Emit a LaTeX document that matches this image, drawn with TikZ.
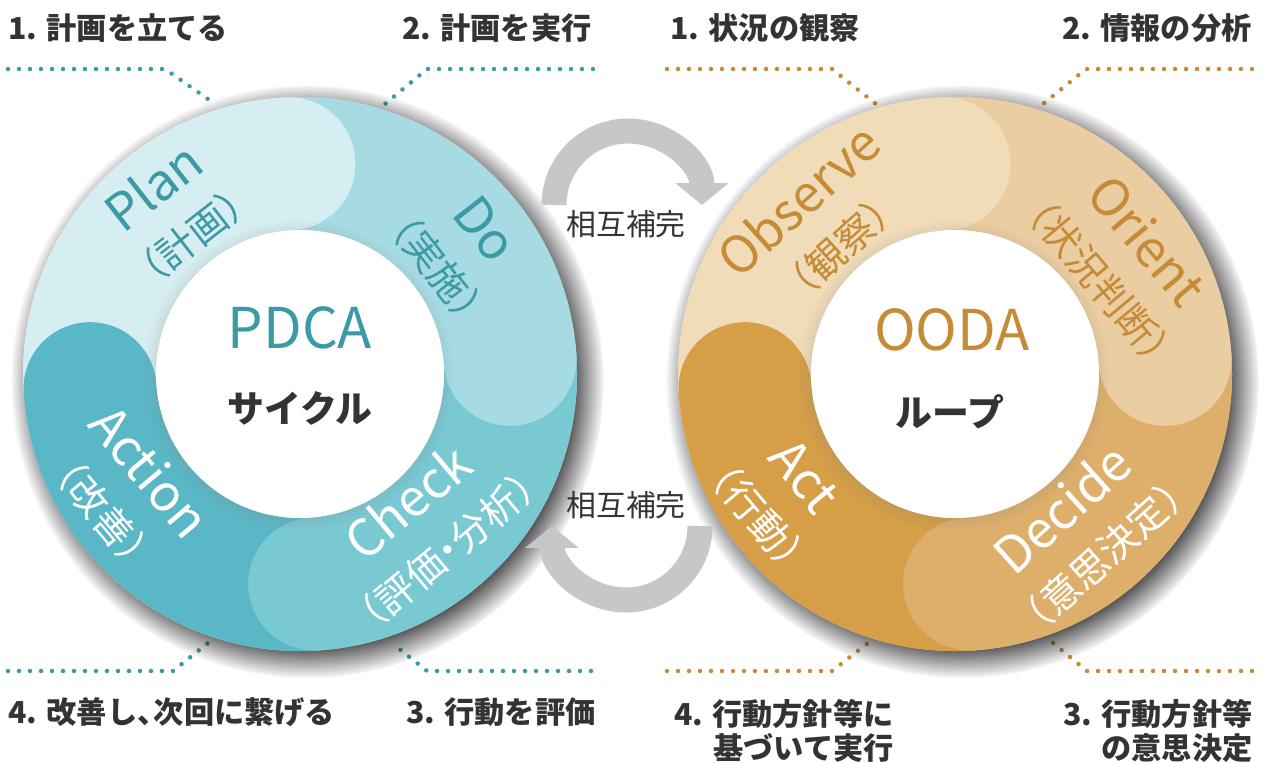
\documentclass[tikz,border=0pt]{standalone}
\usepackage{fontspec}
\setmainfont{Noto Sans CJK JP}
\usepackage{tikz}
\usetikzlibrary{arrows.meta,shadows,fadings}
\usepackage{tkz-euclide}

\definecolor{ink}{HTML}{333333}
\definecolor{pdcaink}{HTML}{3C9AA6}
\definecolor{oodaink}{HTML}{C68B36}
\definecolor{arrowgray}{HTML}{C6C7C9}
\definecolor{pdPlan}{HTML}{D6EEF1}
\definecolor{pdDo}{HTML}{A6DBE4}
\definecolor{pdCheck}{HTML}{79C9D3}
\definecolor{pdAct}{HTML}{5AB8C6}
\definecolor{ooObs}{HTML}{F0DCB9}
\definecolor{ooOri}{HTML}{EACDA1}
\definecolor{ooDec}{HTML}{DEAF6B}
\definecolor{ooAct}{HTML}{D69E47}

\newcommand\jpsmall{\fontsize{22}{28}\selectfont}
% one quarter of a ring: start angle, end angle, colour
\newcommand\ringseg[3]{\fill[#3] (#1:277) arc[start angle=#1,end angle=#2,radius=277]
  -- (#2:144) arc[start angle=#2,end angle=#1,radius=144] -- cycle;}
% rounded end of a quarter
\newcommand\ringcap[2]{\fill[#2] (#1:210.5) circle[radius=66.5];}

\begin{document}
\begin{tikzpicture}[x=0.02cm,y=0.02cm,
  head/.style={font=\bfseries\fontsize{17.2}{19.5}\selectfont,text=ink,inner sep=0pt},
  seglbl/.style={align=center,inner sep=0pt,font=\fontsize{29}{28}\selectfont},
  pdots/.style={draw=pdcaink,line width=0.09cm,line cap=round,dash pattern=on 0pt off 0.22cm},
  odots/.style={pdots,draw=oodaink},
  ringshadow/.style={circular drop shadow={shadow xshift=0.14cm,shadow yshift=-0.14cm,
    shadow scale=1.07,opacity=1,fill=black!95}},
  holeshadow/.style={circular drop shadow={shadow xshift=-0.03cm,shadow yshift=-0.03cm,
    shadow scale=1.08,opacity=0.3,fill=black!50}},
  mutual/.style={draw=arrowgray,line width=0.5cm,-{Triangle[length=0.44cm,width=1.05cm]}}]
\useasboundingbox (0,0) rectangle (1265,762);
\tkzDefPoints{300/388/P,955/388/O,554/557/m1,700/236/m2}
\tkzDefPoints{8/693/a1,165/693/a2,215/658/a3,593/693/b1,427/693/b2,385/658/b3}
\tkzDefPoints{8/91/c1,173/91/c2,208/119/c3,591/91/d1,427/91/d2,392/119/d3}
\tkzDefPoints{667/693/e1,832/693/e2,876/658/e3,1252/693/f1,1086/693/f2,1043/658/f3}
\tkzDefPoints{667/91/g1,832/91/g2,868/119/g3,1252/91/h1,1087/91/h2,1053/119/h3}

% leader dots
\draw[pdots](a1)--(a2)--(a3)(b1)--(b2)--(b3)(c1)--(c2)--(c3)(d1)--(d2)--(d3);
\draw[odots](e1)--(e2)--(e3)(f1)--(f2)--(f3)(g1)--(g2)--(g3)(h1)--(h2)--(h3);

\node[head,anchor=west] (p1) at (8,734) {1. 計画を立てる};
\node[head,anchor=east] (p2) at (592,734) {2. 計画を実行};
\node[head,anchor=west] (p4) at (8,50) {4. 改善し、\kern-0.45em次回に繋げる};
\node[head,anchor=east] (p3) at (596,50) {3. 行動を評価};
\node[head,anchor=west] (o1) at (670,734) {1. 状況の観察};
\node[head,anchor=east] (o2) at (1252,734) {2. 情報の分析};
\node[head,anchor=east,align=right] (o4) at (894,31) {4. 行動方針等に\\基づいて実行};
\node[head,anchor=east,align=right] (o3) at (1253,31) {3. 行動方針等\\の意思決定};

% PDCA ring
\begin{scope}[shift={(P)}]
\fill[pdPlan,ringshadow] (0,0) circle[radius=277];
\ringseg{184}{93}{pdPlan}
\ringseg{93}{4}{pdDo}
\ringseg{4}{-86}{pdCheck}
\ringseg{-86}{-176}{pdAct}
\ringcap{93}{pdPlan}\ringcap{4}{pdDo}\ringcap{-86}{pdCheck}\ringcap{184}{pdAct}
\fill[white,holeshadow] (0,0) circle[radius=144];
\node[seglbl,text=pdcaink,rotate=38] (plan) at (128:208) {Plan\\[5pt]\jpsmall（計画）};
\node[seglbl,text=pdcaink,rotate=-52] (do) at (38:205) {Do\\[5pt]\jpsmall（実施）};
\node[seglbl,text=white,rotate=40] (check) at (-50:197) {Check\\[5pt]\jpsmall（評価\kern-0.25em・\kern-0.25em分析）};
\node[seglbl,text=white,rotate=-50] (action) at (214:209) {Action\\[5pt]\jpsmall（改善）};
\node[font=\fontsize{32}{34}\selectfont,text=pdcaink] (pdca) at (0,46) {PDCA};
\node[font=\bfseries\fontsize{21}{24}\selectfont,text=ink] (cycle) at (0,-34) {サイクル};
\end{scope}

% OODA ring
\begin{scope}[shift={(O)}]
\fill[ooObs,ringshadow] (0,0) circle[radius=277];
\ringseg{184}{93}{ooObs}
\ringseg{93}{4}{ooOri}
\ringseg{4}{-86}{ooDec}
\ringseg{-86}{-176}{ooAct}
\ringcap{93}{ooObs}\ringcap{4}{ooOri}\ringcap{-86}{ooDec}\ringcap{184}{ooAct}
\fill[white,holeshadow] (0,0) circle[radius=144];
\node[seglbl,text=oodaink,rotate=42] (observe) at (132:204) {Observe\\[5pt]\jpsmall（観察）};
\node[seglbl,text=oodaink,rotate=-50] (orient) at (34:204) {Orient\\[5pt]\jpsmall（状況判断）};
\node[seglbl,text=white,rotate=42] (decide) at (-51:202) {Decide\\[5pt]\jpsmall（意思決定）};
\node[seglbl,text=white,rotate=-50] (act) at (215:212) {Act\\[5pt]\jpsmall（行動）};
\node[font=\fontsize{32}{34}\selectfont,text=oodaink] (ooda) at (-3,44) {OODA};
\node[font=\bfseries\fontsize{21}{24}\selectfont,text=ink] (loop) at (-5,-38) {ループ};
\end{scope}

% mutual arrows
\draw[mutual] (m1) arc[start angle=180,end angle=0,radius=74];
\draw[mutual] (m2) arc[start angle=0,end angle=-180,radius=74];
\node[font=\fontsize{17}{20}\selectfont,text=ink] (mut1) at (626,538) {相互補完};
\node[font=\fontsize{17}{20}\selectfont,text=ink] (mut2) at (626,257) {相互補完};
\end{tikzpicture}
\end{document}
